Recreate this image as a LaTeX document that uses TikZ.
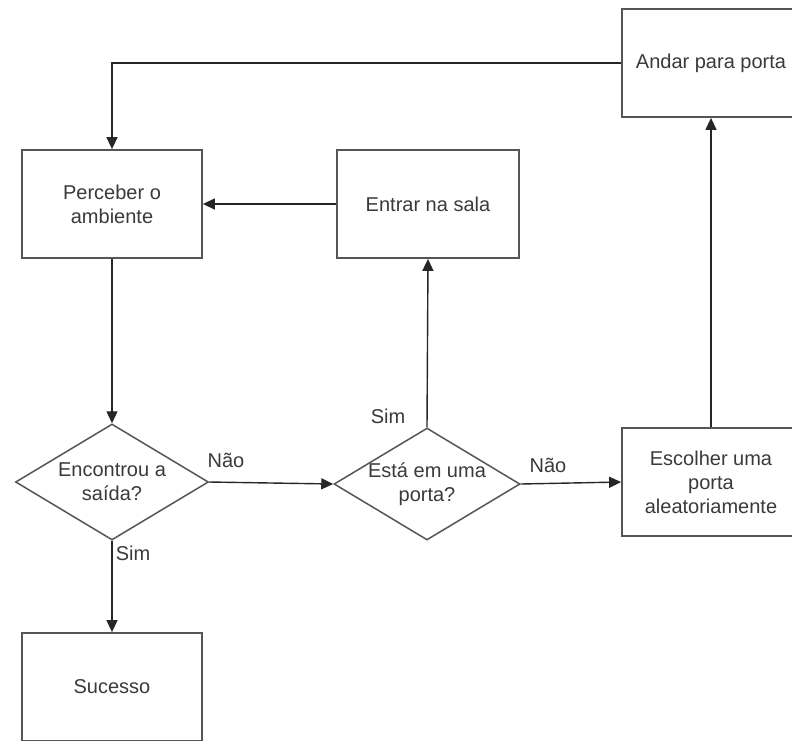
\documentclass[tikz,border=0pt]{standalone}
\usepackage{fontspec}
\setmainfont{Liberation Sans}
\usetikzlibrary{shapes.geometric,arrows.meta}
\definecolor{inkgray}{HTML}{3A3A3A}
\definecolor{edgegray}{HTML}{555555}
\begin{document}
\begin{tikzpicture}[x=1pt,y=-1pt,
  every node/.style={font=\fontsize{20}{24}\selectfont, text=inkgray},
  procbox/.style={draw=edgegray, line width=1.8pt, rectangle, minimum width=180pt, minimum height=108pt, align=center, inner sep=0pt},
  decision/.style={draw=edgegray, line width=1.5pt, diamond, shape aspect=1.66, inner sep=-8pt, align=center},
  flow/.style={draw=black!85, line width=1.4pt, -{Triangle[length=12pt,width=11pt]}},
  lbl/.style={inner sep=0pt}
]
\clip (0,0) rectangle (792,740);
\fill[white] (0,0) rectangle (792,740);

% process boxes
\node[procbox, minimum width=178pt] (andar) at (711,63) {Andar para porta};
\node[procbox] (perceber) at (112,204) {Perceber o\\ambiente};
\node[procbox, minimum width=182pt] (entrar) at (428,204) {Entrar na sala};
\node[procbox, minimum width=178pt] (escolher) at (711,482) {Escolher uma\\porta\\aleatoriamente};
\node[procbox] (sucesso) at (112,687) {Sucesso};

% decisions
\node[decision, minimum width=193pt, minimum height=116pt] (saida) at (112,482) {Encontrou a\\saída?};
\node[decision, minimum width=186pt, minimum height=112pt] (porta) at (427,484) {Está em uma\\porta?};

% connectors
\draw[flow] (andar.west) -| (perceber.north);
\draw[flow] (entrar.west) -- (perceber.east);
\draw[flow] (perceber.south) -- (saida.north);
\draw[flow] (saida.east) -- (porta.west);
\draw[flow] (porta.north) -- (entrar.south);
\draw[flow] (porta.east) -- (escolher.west);
\draw[flow] (escolher.north) -- (andar.south);
\draw[flow] (saida.south) -- (sucesso.north);

% branch labels
\node[lbl] (nao1) at (226,460) {Não};
\node[lbl] (sim1) at (133,553) {Sim};
\node[lbl] (sim2) at (388,416) {Sim};
\node[lbl] (nao2) at (548,465) {Não};
\end{tikzpicture}
\end{document}
